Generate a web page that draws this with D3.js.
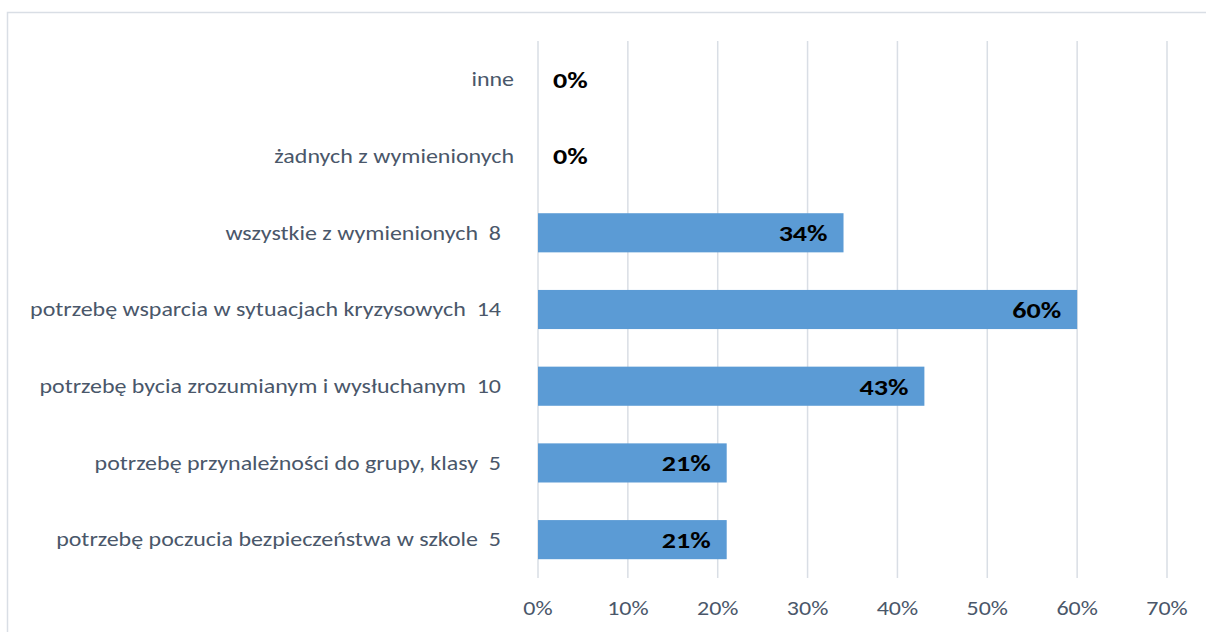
<!DOCTYPE html>
<html>
<head>
<meta charset="utf-8">
<script src="https://cdn.jsdelivr.net/npm/d3@7"></script>
<style>
  html, body { margin: 0; padding: 0; background: #fff; }
  svg { display: block; }
</style>
</head>
<body>
<svg id="chart"></svg>
<script>
// categories, top to bottom as in the picture
const categories = [
  'inne',
  'żadnych z wymienionych',
  'wszystkie z wymienionych',
  'potrzebę wsparcia w sytuacjach kryzysowych',
  'potrzebę bycia zrozumianym i wysłuchanym',
  'potrzebę przynależności do grupy, klasy',
  'potrzebę poczucia bezpieczeństwa w szkole'
]
// respondent counts shown after the label (null = none shown)
const counts = [null, null, 8, 14, 10, 5, 5]
// share of answers
const shares = [0, 0, 0.34, 0.60, 0.43, 0.21, 0.21]
const xTicks = [0, 0.1, 0.2, 0.3, 0.4, 0.5, 0.6, 0.7]

const width = 1206, height = 632
const font = 'Calibri, Carlito, Lato, sans-serif'
const textColor = '#4A576A'
const gridColor = '#D9DEE5'
// the original picture is stretched sideways, so text is too
const stretch = 1.23

const data = categories.map((c, i) => ({ name: c, count: counts[i], value: shares[i] }))

const svg = d3.select('#chart')
    .attr('width', width)
    .attr('height', height)
    .attr('font-family', font)

// chart frame
svg.append('rect')
    .attr('x', 7.5).attr('y', 12.5)
    .attr('width', width).attr('height', height)
    .attr('fill', 'none')
    .attr('stroke', gridColor)
    .attr('stroke-width', 1.5)

const x = d3.scaleLinear().domain([0, 0.7]).range([538, 1167])
const y = d3.scaleBand()
    .domain(categories)
    .range([41, 578])
    .paddingInner(0.49)
    .paddingOuter(0.245)

const place = (px, py, sx) => `translate(${px},${py}) scale(${sx},1)`

// vertical gridlines
svg.append('g')
    .selectAll('line')
    .data(xTicks)
    .join('line')
    .attr('x1', d => x(d)).attr('x2', d => x(d))
    .attr('y1', 41).attr('y2', 578)
    .attr('stroke', gridColor)
    .attr('stroke-width', 1.5)

// x tick labels
svg.append('g')
    .selectAll('text')
    .data(xTicks)
    .join('text')
    .attr('transform', d => place(x(d), 608, stretch))
    .attr('dy', '0.35em')
    .attr('text-anchor', 'middle')
    .attr('font-size', 19.5)
    .attr('fill', textColor)
    .text(d3.format('.0%'))

// bars
svg.append('g')
    .selectAll('rect')
    .data(data.filter(d => d.value > 0))
    .join('rect')
    .attr('x', x(0))
    .attr('y', d => y(d.name))
    .attr('width', d => x(d.value) - x(0))
    .attr('height', y.bandwidth())
    .attr('fill', '#5B9BD5')

// category labels
svg.append('g')
    .selectAll('text')
    .data(data)
    .join('text')
    .attr('transform', d => place(d.count == null ? 514 : 501, y(d.name) + y.bandwidth() / 2, stretch))
    .attr('dy', '0.35em')
    .attr('text-anchor', 'end')
    .attr('font-size', 19.5)
    .attr('fill', textColor)
    .style('white-space', 'pre')
    .text(d => d.count == null ? d.name : `${d.name}  ${d.count}`)

// value labels, inside end of bar (outside when zero)
svg.append('g')
    .selectAll('text')
    .data(data)
    .join('text')
    .attr('transform', d => place(d.value > 0 ? x(d.value) - 16 : x(0) + 15, y(d.name) + y.bandwidth() / 2, 1.22))
    .attr('dy', '0.36em')
    .attr('text-anchor', d => d.value > 0 ? 'end' : 'start')
    .attr('font-size', 23)
    .attr('font-weight', 'bold')
    .attr('fill', '#000')
    .text(d => d3.format('.0%')(d.value))
</script>
</body>
</html>
